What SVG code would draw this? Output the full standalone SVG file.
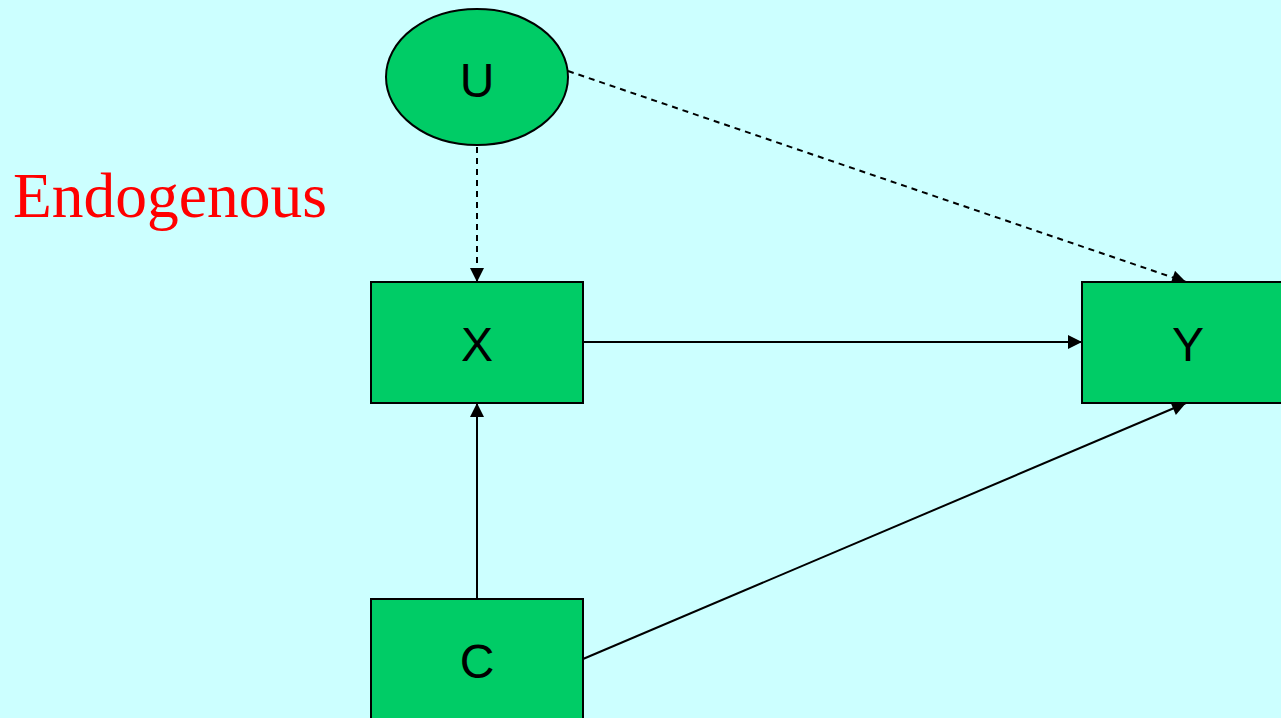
<svg xmlns="http://www.w3.org/2000/svg" width="1281" height="718" viewBox="0 0 1281 718">
<style>
.node{fill:#00CC66;stroke:#000;stroke-width:2}
.lbl{font-family:"Liberation Sans",Arial,sans-serif;font-size:48px;fill:#000;text-anchor:middle}
.e{stroke:#000;stroke-width:2;fill:none;marker-end:url(#ah)}
.d{stroke-dasharray:6,5}
</style>
<defs>
<marker id="ah" viewBox="0 0 10 10" refX="10" refY="5" markerWidth="15" markerHeight="14" markerUnits="userSpaceOnUse" orient="auto">
<path d="M0,0 L10,5 L0,10 z" fill="#000"/>
</marker>
</defs>
<rect width="1281" height="718" fill="#CCFFFF"/>
<text x="13" y="217" font-family="Liberation Serif,Times New Roman,serif" font-size="63.5" fill="#FF0000">Endogenous</text>
<g id="connectors">
<line class="e d" x1="477" y1="147" x2="477" y2="282"/>
<line class="e d" x1="568" y1="71" x2="1186" y2="282"/>
<line class="e" x1="583" y1="342" x2="1082" y2="342"/>
<line class="e" x1="477" y1="599" x2="477" y2="403"/>
<line class="e" x1="583" y1="659" x2="1186" y2="403"/>
</g>
<g id="U">
<ellipse class="node" cx="477" cy="77" rx="91" ry="68"/>
<text class="lbl" x="477" y="97">U</text>
</g>
<g id="X">
<rect class="node" x="371" y="282" width="212" height="121"/>
<text class="lbl" x="477" y="361">X</text>
</g>
<g id="Y">
<rect class="node" x="1082" y="282" width="212" height="121"/>
<text class="lbl" x="1188" y="361">Y</text>
</g>
<g id="C">
<rect class="node" x="371" y="599" width="212" height="130"/>
<text class="lbl" x="477" y="678">C</text>
</g>
</svg>
